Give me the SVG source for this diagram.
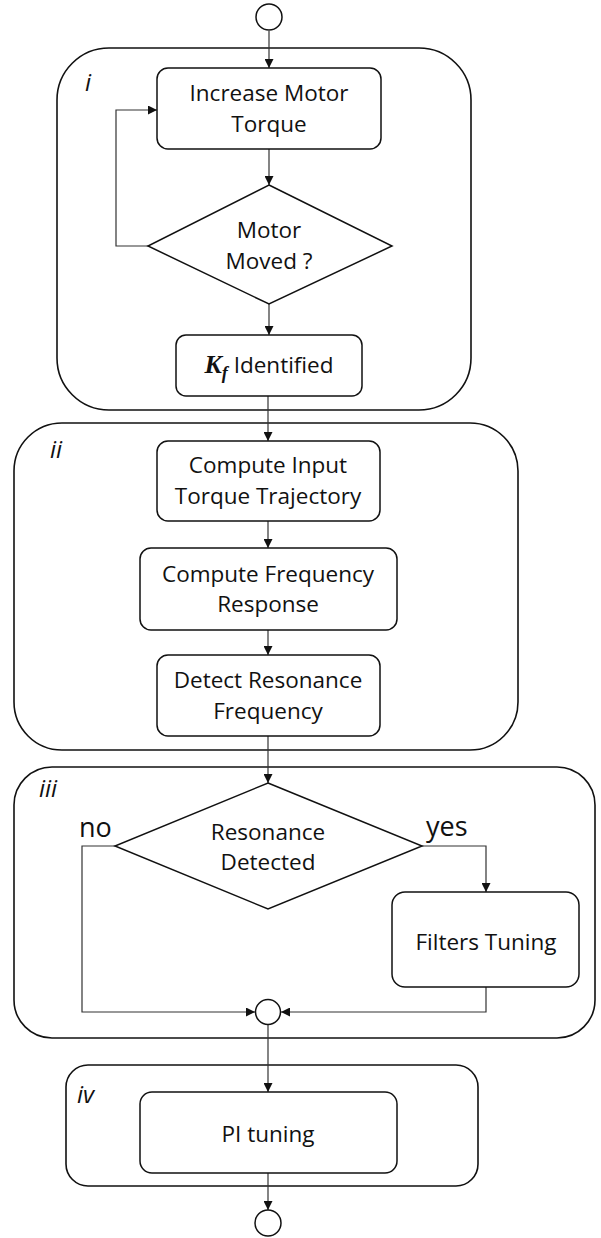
<svg xmlns="http://www.w3.org/2000/svg" width="601" height="1238" viewBox="0 0 601 1238">
<style>
.grp{fill:none;stroke:#111;stroke-width:1.6}
.box{fill:#fff;stroke:#111;stroke-width:1.5}
.term{fill:#fff;stroke:#111;stroke-width:1.5}
.con{fill:none;stroke:#333;stroke-width:1.2}
.t{font-family:"Open Sans","Liberation Sans",sans-serif;font-size:22.5px;fill:#111;text-anchor:middle}
.lab{font-family:"Open Sans","Liberation Sans",sans-serif;font-size:24px;font-style:italic;fill:#111}
.yn{font-family:"Open Sans","Liberation Sans",sans-serif;font-size:27px;fill:#111}
.m{font-family:"Liberation Serif",serif;font-weight:bold;font-style:italic;fill:#111}
</style>
<defs>
<marker id="ah" viewBox="0 0 10 10" refX="10" refY="5" markerWidth="9" markerHeight="9" markerUnits="userSpaceOnUse" orient="auto">
<path d="M0,0 L10,5 L0,10 z" fill="#111"/>
</marker>
</defs>

<g id="group-i">
<rect class="grp" x="57" y="48" width="414" height="362" rx="52"/>
<text class="lab" x="85" y="91">i</text>
</g>
<g id="group-ii">
<rect class="grp" x="14" y="423" width="504" height="327" rx="48"/>
<text class="lab" x="50" y="458">ii</text>
</g>
<g id="group-iii">
<rect class="grp" x="14" y="767" width="581" height="271" rx="38"/>
<text class="lab" x="39" y="797">iii</text>
</g>
<g id="group-iv">
<rect class="grp" x="66" y="1065" width="412" height="121" rx="22"/>
<text class="lab" x="77" y="1103">iv</text>
</g>

<g id="connectors">
<line class="con" x1="269" y1="31" x2="269" y2="68" marker-end="url(#ah)"/>
<line class="con" x1="269" y1="149" x2="269" y2="185" marker-end="url(#ah)"/>
<polyline class="con" points="148,246 116,246 116,110 157,110" marker-end="url(#ah)"/>
<line class="con" x1="269" y1="304" x2="269" y2="335" marker-end="url(#ah)"/>
<line class="con" x1="268" y1="396" x2="268" y2="441" marker-end="url(#ah)"/>
<line class="con" x1="268" y1="521" x2="268" y2="548" marker-end="url(#ah)"/>
<line class="con" x1="268" y1="630" x2="268" y2="655" marker-end="url(#ah)"/>
<line class="con" x1="268" y1="736" x2="268" y2="783" marker-end="url(#ah)"/>
<polyline class="con" points="115,846 82,846 82,1012 255,1012" marker-end="url(#ah)"/>
<polyline class="con" points="422,846 486,846 486,892" marker-end="url(#ah)"/>
<polyline class="con" points="486,987 486,1012 281,1012" marker-end="url(#ah)"/>
<line class="con" x1="268" y1="1025" x2="268" y2="1092" marker-end="url(#ah)"/>
<line class="con" x1="268" y1="1173" x2="268" y2="1210" marker-end="url(#ah)"/>
</g>

<g id="start">
<circle class="term" cx="269" cy="17" r="13"/>
</g>
<g id="increase-torque">
<rect class="box" x="157" y="68" width="224" height="81" rx="11"/>
<text class="t" x="269" y="101">Increase Motor</text>
<text class="t" x="269" y="132">Torque</text>
</g>
<g id="motor-moved">
<polygon class="box" points="269,185 392,246 269,304 148,246"/>
<text class="t" x="269" y="238">Motor</text>
<text class="t" x="269" y="269">Moved ?</text>
</g>
<g id="kf-identified">
<rect class="box" x="176" y="335" width="186" height="61" rx="10"/>
<text x="269" y="373" style="text-anchor:middle"><tspan class="m" font-size="26">K</tspan><tspan class="m" font-size="18" dy="6">f</tspan><tspan font-family="'Open Sans','Liberation Sans',sans-serif" font-size="22.5" fill="#111" dy="-6"> Identified</tspan></text>
</g>
<g id="compute-input">
<rect class="box" x="157" y="441" width="223" height="80" rx="11"/>
<text class="t" x="268" y="473">Compute Input</text>
<text class="t" x="268" y="504">Torque Trajectory</text>
</g>
<g id="compute-frequency">
<rect class="box" x="140" y="548" width="257" height="82" rx="11"/>
<text class="t" x="268" y="582">Compute Frequency</text>
<text class="t" x="268" y="612">Response</text>
</g>
<g id="detect-resonance">
<rect class="box" x="157" y="655" width="223" height="81" rx="11"/>
<text class="t" x="268" y="688">Detect Resonance</text>
<text class="t" x="268" y="719">Frequency</text>
</g>
<g id="resonance-detected">
<polygon class="box" points="268,783 422,846 268,909 115,846"/>
<text class="t" x="268" y="840">Resonance</text>
<text class="t" x="268" y="870">Detected</text>
<text class="yn" x="79" y="837">no</text>
<text class="yn" x="426" y="836">yes</text>
</g>
<g id="filters-tuning">
<rect class="box" x="392" y="892" width="187" height="95" rx="13"/>
<text class="t" x="486" y="950">Filters Tuning</text>
</g>
<g id="merge">
<circle class="term" cx="268" cy="1012" r="12.5"/>
</g>
<g id="pi-tuning">
<rect class="box" x="140" y="1092" width="257" height="81" rx="12"/>
<text class="t" x="268" y="1142">PI tuning</text>
</g>
<g id="end">
<circle class="term" cx="268" cy="1223" r="13"/>
</g>
</svg>
